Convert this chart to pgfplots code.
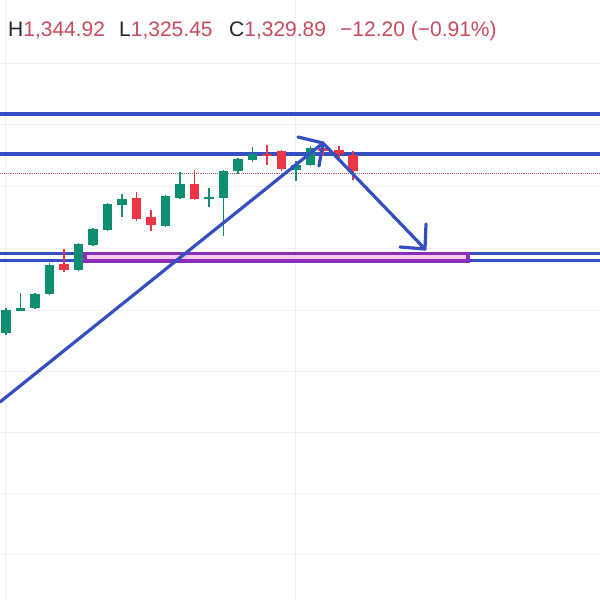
\documentclass[border=0pt]{standalone}
\usepackage{pgfplots}
\pgfplotsset{compat=1.18}
\usepackage{fontspec}
\setmainfont{Liberation Sans}
\definecolor{tvgreen}{HTML}{0E8F72}
\definecolor{tvred}{HTML}{EE3545}
\definecolor{lineblue}{HTML}{3450C0}
\definecolor{bandpurple}{HTML}{8A2FB8}
\definecolor{bandpink}{HTML}{F7C8F4}
\definecolor{txtred}{HTML}{C94A5C}
\definecolor{txtdark}{HTML}{23262F}
\begin{document}
\begin{tikzpicture}
\begin{axis}[
  scale only axis, width=600pt, height=600pt,
  xmin=0, xmax=600, ymin=0, ymax=600, y dir=reverse,
  hide axis,
  unbounded coords=jump, clip=true,
]
% grid
\addplot[black!6, line width=0.8pt] table {
x y
5 0
5 600
5 nan
295 0
295 600
295 nan
0 63
600 63
600 nan
0 124
600 124
600 nan
0 186
600 186
600 nan
0 248
600 248
600 nan
0 310
600 310
600 nan
0 371
600 371
600 nan
0 432
600 432
600 nan
0 493
600 493
600 nan
0 554
600 554
};
% price line
\addplot[txtred!60!gray, densely dotted, line width=0.9pt] coordinates {(0,173) (600,173)};
% horizontal levels
\addplot[lineblue, line width=3.4pt] coordinates {(0,114) (600,114)};
\addplot[lineblue, line width=3.4pt] coordinates {(0,154) (600,154)};
\addplot[lineblue, line width=3.2pt] coordinates {(0,253.5) (600,253.5)};
\addplot[lineblue, line width=3.2pt] coordinates {(0,260.5) (600,260.5)};
% band
\addplot[fill=bandpink, draw=bandpurple, line width=3.6pt] coordinates {(85,253.3) (468,253.3) (468,260.7) (85,260.7)} -- cycle;
% green wicks
\addplot[tvgreen, line width=1.6pt] table {
x y
6 308
6 335
6 nan
20.5 293
20.5 311
20.5 nan
35 293
35 309
35 nan
49.5 263
49.5 295
49.5 nan
78.5 243
78.5 271
78.5 nan
93 228
93 246
93 nan
107.5 203
107.5 231
107.5 nan
122 194
122 217
122 nan
165.5 195
165.5 227
165.5 nan
180 172
180 199
180 nan
209 188
209 207
209 nan
223.5 170
223.5 236
223.5 nan
238 158
238 174
238 nan
252.5 147
252.5 162
252.5 nan
296 161
296 181
296 nan
310.5 146
310.5 166
};
% green bodies
\addplot[tvgreen, line width=9.5pt, line cap=butt] table {
x y
6 310
6 333
6 nan
20.5 308
20.5 310.5
20.5 nan
35 294
35 308
35 nan
49.5 265
49.5 294
49.5 nan
78.5 244
78.5 270
78.5 nan
93 229
93 245
93 nan
107.5 204
107.5 230
107.5 nan
122 199
122 205
122 nan
165.5 196
165.5 226
165.5 nan
180 184
180 198
180 nan
209 197
209 199
209 nan
223.5 171
223.5 198
223.5 nan
238 159
238 171
238 nan
252.5 154
252.5 160
252.5 nan
296 165
296 170
296 nan
310.5 148
310.5 165
};
% red wicks
\addplot[tvred, line width=1.6pt] table {
x y
64 249
64 272
64 nan
136.5 192
136.5 221
136.5 nan
151 210
151 231
151 nan
194.5 170
194.5 200
194.5 nan
267 145
267 165
267 nan
281.5 150
281.5 171
281.5 nan
323 143
323 156
323 nan
339 146
339 158
339 nan
353 151
353 180
};
% red bodies
\addplot[tvred, line width=9.5pt, line cap=butt] table {
x y
64 264
64 270
64 nan
136.5 198
136.5 219
136.5 nan
151 217
151 225
151 nan
194.5 184
194.5 199
194.5 nan
267 154
267 156
267 nan
281.5 151
281.5 169
281.5 nan
323 148
323 151
323 nan
339 150
339 154
339 nan
353 155
353 171
};
% arrows
\addplot[lineblue, line width=3.2pt, line join=round, line cap=round] coordinates {(0,402) (323,143)};
\addplot[lineblue, line width=3.2pt, line join=round, line cap=round] coordinates {(298,137) (323,143) (319,166)};
\addplot[lineblue, line width=3.2pt, line join=round, line cap=round] coordinates {(323,143) (425,249)};
\addplot[lineblue, line width=3.2pt, line join=round, line cap=round] coordinates {(400,247) (425,249) (426,224)};
% header text
\node[anchor=base west, inner sep=0pt, font=\fontsize{21}{24}\selectfont] at (axis cs:8,36) {\textcolor{txtdark}{H}\textcolor{txtred}{1,344.92}};
\node[anchor=base west, inner sep=0pt, font=\fontsize{21}{24}\selectfont] at (axis cs:119,36) {\textcolor{txtdark}{L}\textcolor{txtred}{1,325.45}};
\node[anchor=base west, inner sep=0pt, font=\fontsize{21}{24}\selectfont] at (axis cs:229,36) {\textcolor{txtdark}{C}\textcolor{txtred}{1,329.89}};
\node[anchor=base west, inner sep=0pt, font=\fontsize{21}{24}\selectfont] at (axis cs:340,36) {\textcolor{txtred}{−12.20 (−0.91\%)}};
\end{axis}
\end{tikzpicture}
\end{document}
